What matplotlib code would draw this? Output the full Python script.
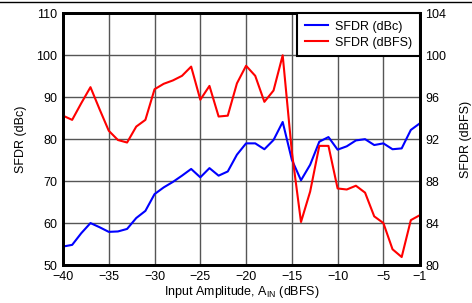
import matplotlib.pyplot as plt
from matplotlib.lines import Line2D

plt.rcParams['font.family'] = ['Liberation Sans', 'DejaVu Sans']

# Input amplitude (dBFS)
ain = list(range(-40, 0))

# SFDR in dBc (left axis)
sfdr_dbc = [54.4, 54.8, 57.6, 60.0, 59.0, 57.9, 58.0, 58.6, 61.2, 62.9,
            66.9, 68.5, 69.8, 71.3, 72.9, 70.9, 73.1, 71.3, 72.3, 76.3,
            79.0, 79.0, 77.6, 79.8, 84.1, 75.1, 70.2, 73.9, 79.4, 80.5,
            77.5, 78.3, 79.7, 80.0, 78.6, 79.0, 77.6, 77.8, 82.2, 83.8]

# SFDR in dBFS (right axis)
sfdr_dbfs = [94.24, 93.84, 95.44, 96.96, 94.84, 92.8, 91.92, 91.68, 93.2, 93.84,
             96.76, 97.28, 97.6, 98.04, 98.92, 95.76, 97.08, 94.16, 94.24, 97.32,
             99.0, 98.04, 95.56, 96.64, 100.0, 90.8, 84.1, 87.0, 91.36, 91.36,
             87.3, 87.2, 87.56, 86.9, 84.64, 84.0, 81.5, 80.76, 84.28, 84.76]

xticks = [-40, -35, -30, -25, -20, -15, -10, -5, -1]

fig = plt.figure(figsize=(4.72, 3.03), dpi=100)
ax = fig.add_axes([0.1335, 0.1254, 0.7563, 0.8306])
ax2 = ax.twinx()

grid_color = '#555555'
for v in [-35, -30, -25, -20, -15, -10, -5]:
    ax.axvline(v, color=grid_color, lw=1.0, zorder=0)
for v in range(60, 110, 10):
    ax.axhline(v, color=grid_color, lw=1.0, zorder=0)

l1, = ax.plot(ain, sfdr_dbc, color='#0000ff', lw=1.5, label='SFDR (dBc)')
l2, = ax2.plot(ain, sfdr_dbfs, color='#ff0000', lw=1.5, label='SFDR (dBFS)')

ax.set_xlim(-40, -1)
ax.set_ylim(50, 110)
ax2.set_ylim(80, 104)
ax.set_xticks(xticks)
ax.set_yticks(range(50, 111, 10))
ax2.set_yticks(range(80, 105, 4))

for a in (ax, ax2):
    a.tick_params(length=0, labelsize=9, pad=4)
    for s in a.spines.values():
        s.set_linewidth(2)
        s.set_color('black')

ax.set_xlabel('Input Amplitude, A$_{\\mathregular{IN}}$ (dBFS)', fontsize=9, labelpad=1)
ax.set_ylabel('SFDR (dBc)', fontsize=9, labelpad=7)
ax2.set_ylabel('SFDR (dBFS)', fontsize=9, labelpad=10)

leg = ax2.legend(handles=[l1, l2], loc='upper right', fontsize=9,
                 fancybox=False, framealpha=1, edgecolor='black',
                 borderaxespad=0, handlelength=1.9, handletextpad=0.55,
                 borderpad=0.6, labelspacing=0.3)
leg.get_frame().set_linewidth(1.5)

fig.add_artist(Line2D([0, 1], [0.995, 0.995], color='black', lw=1.0))

fig.savefig('out.png', dpi=100)
